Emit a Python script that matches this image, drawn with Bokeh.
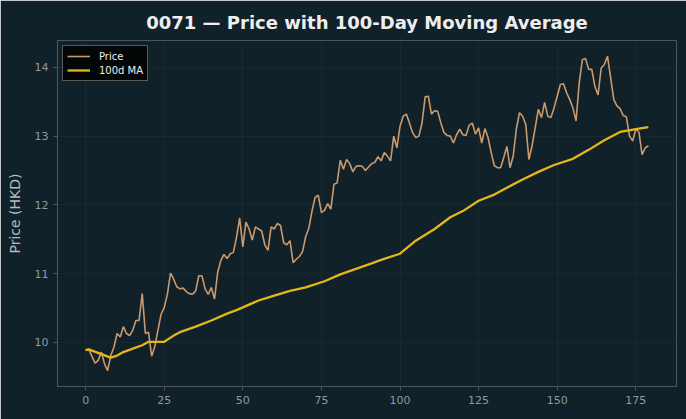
from bokeh.plotting import figure
from bokeh.models import Range1d, SingleIntervalTicker, Legend, LegendItem
from bokeh.embed import file_html
from bokeh.resources import INLINE

# ---- data ----
days = list(range(180))
price = [
    9.89, 9.90, 9.80, 9.70, 9.74, 9.86, 9.69, 9.59, 9.81, 9.93,
    10.13, 10.08, 10.23, 10.13, 10.10, 10.18, 10.32, 10.32, 10.71, 10.13,
    10.15, 9.80, 9.94, 10.18, 10.41, 10.51, 10.70, 11.01, 10.92, 10.81,
    10.78, 10.79, 10.74, 10.71, 10.70, 10.75, 10.97, 10.97, 10.78, 10.70,
    10.80, 10.63, 11.02, 11.19, 11.28, 11.22, 11.29, 11.31, 11.53, 11.81,
    11.39, 11.75, 11.65, 11.49, 11.68, 11.65, 11.62, 11.42, 11.34, 11.68,
    11.65, 11.73, 11.70, 11.45, 11.42, 11.48, 11.16, 11.21, 11.25, 11.32,
    11.54, 11.66, 11.91, 12.11, 12.14, 11.89, 11.92, 12.02, 11.94, 12.30,
    12.32, 12.65, 12.52, 12.66, 12.60, 12.48, 12.56, 12.57, 12.56, 12.50,
    12.55, 12.60, 12.62, 12.70, 12.64, 12.76, 12.71, 12.64, 13.00, 12.83,
    13.14, 13.29, 13.32, 13.19, 13.05, 12.98, 13.00, 13.19, 13.57, 13.58,
    13.32, 13.37, 13.36, 13.19, 13.05, 13.01, 13.00, 12.90, 13.02, 13.10,
    13.02, 13.01, 13.16, 13.19, 13.03, 13.12, 12.90, 13.11, 12.98, 12.76,
    12.57, 12.54, 12.54, 12.69, 12.85, 12.54, 12.71, 13.10, 13.34, 13.29,
    13.17, 12.66, 12.86, 13.12, 13.39, 13.27, 13.49, 13.29, 13.27, 13.41,
    13.58, 13.75, 13.76, 13.63, 13.53, 13.41, 13.22, 13.77, 14.11, 14.13,
    13.97, 13.97, 13.72, 13.60, 13.99, 14.04, 14.16, 13.85, 13.53, 13.44,
    13.40, 13.30, 13.28, 13.00, 12.93, 13.10, 13.06, 12.73, 12.83, 12.86,
]
ma_days = [0, 1, 5, 8, 10, 12, 15, 18, 20, 25, 28, 30, 35, 40, 45, 48, 55, 60,
           65, 70, 76, 81, 86, 91, 94, 100, 105, 111, 116, 120, 125, 130, 134,
           139, 144, 149, 155, 160, 165, 170, 176, 179]
ma_vals = [9.89, 9.90, 9.83, 9.78, 9.81, 9.86, 9.91, 9.96, 10.01, 10.01, 10.10,
           10.15, 10.23, 10.32, 10.42, 10.47, 10.61, 10.68, 10.75, 10.80, 10.89,
           10.99, 11.07, 11.15, 11.20, 11.29, 11.48, 11.65, 11.82, 11.91, 12.06,
           12.15, 12.25, 12.37, 12.48, 12.58, 12.67, 12.80, 12.94, 13.06, 13.11,
           13.13]

title_text = "0071 \u2014 Price with 100-Day Moving Average"
y_label = "Price (HKD)"
series_names = ["Price", "100d MA"]

BG = "#11212a"
FONT = "DejaVu Sans"

p = figure(width=686, height=419, output_backend="svg", toolbar_location=None,
           x_range=Range1d(-8.95, 187.95), y_range=Range1d(9.36, 14.39),
           min_border_left=57, min_border_right=10, min_border_top=40,
           min_border_bottom=33)

p.background_fill_color = BG
p.border_fill_color = BG
p.outline_line_color = None

p.title.text = title_text
p.title.align = "center"
p.title.text_font = FONT
p.title.text_font_size = "18px"
p.title.text_font_style = "bold"
p.title.text_color = "#eeeeee"
p.title.standoff = 16

for ax in (p.xaxis[0], p.yaxis[0]):
    ax.axis_line_color = "#4d585d"
    ax.major_tick_line_color = "#4d585d"
    ax.minor_tick_line_color = None
    ax.major_tick_out = 4
    ax.major_tick_in = 0
    ax.major_label_text_color = "#8f999e"
    ax.major_label_text_font = FONT
    ax.major_label_text_font_size = "11px"
    ax.major_label_standoff = 5

p.xaxis[0].ticker = SingleIntervalTicker(interval=25)
p.yaxis[0].ticker = SingleIntervalTicker(interval=1)
p.yaxis[0].axis_label = y_label
p.yaxis[0].axis_label_text_font = FONT
p.yaxis[0].axis_label_text_font_style = "normal"
p.yaxis[0].axis_label_text_font_size = "14px"
p.yaxis[0].axis_label_text_color = "#b4bcc0"
p.yaxis[0].axis_label_standoff = 9

p.xgrid.grid_line_color = "#18292f"
p.ygrid.grid_line_color = "#18292f"
p.xgrid.grid_line_width = 1
p.ygrid.grid_line_width = 1

r_price = p.line(days, price, line_color="#c99a6e", line_width=1.6)
r_ma = p.line(ma_days, ma_vals, line_color="#e3b71a", line_width=2.3)

legend = Legend(items=[LegendItem(label=series_names[0], renderers=[r_price]),
                       LegendItem(label=series_names[1], renderers=[r_ma])],
                location="top_left")
legend.background_fill_color = "#030505"
legend.background_fill_alpha = 0.95
legend.border_line_color = "#b0b0b0"
legend.border_line_width = 1
legend.label_text_color = "#eeeeee"
legend.label_text_font = FONT
legend.label_text_font_size = "10px"
legend.glyph_width = 23
legend.glyph_height = 12
legend.label_height = 12
legend.label_standoff = 9
legend.padding = 4
legend.spacing = 2
legend.margin = 5
p.add_layout(legend)

open("out.html", "w").write(file_html(p, INLINE))
